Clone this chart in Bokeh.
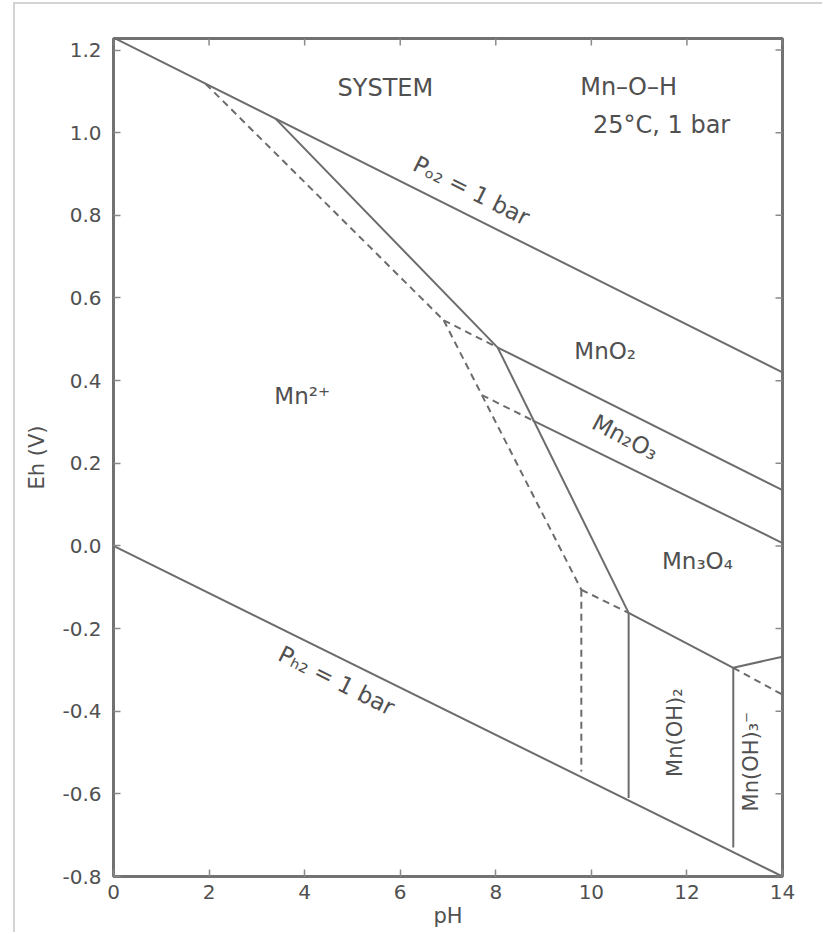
import math
from bokeh.plotting import figure
from bokeh.models import Range1d, FixedTicker, PrintfTickFormatter
from bokeh.core.properties import value
from bokeh.embed import file_html
from bokeh.resources import INLINE

# ---------------- data ----------------
ph_ticks = [0, 2, 4, 6, 8, 10, 12, 14]
eh_ticks = [-0.8, -0.6, -0.4, -0.2, 0.0, 0.2, 0.4, 0.6, 0.8, 1.0, 1.2]

# water stability limits
o2_ph = [0.0, 14.0]
o2_eh = [1.23, 0.42]
h2_ph = [0.0, 14.0]
h2_eh = [0.0, -0.80]

# solid boundaries
mn2_mno2_ph = [3.39, 8.04]
mn2_mno2_eh = [1.034, 0.48]
mn2_oxide_ph = [8.04, 10.78]
mn2_oxide_eh = [0.48, -0.162]
mno2_mn2o3_ph = [8.04, 14.0]
mno2_mn2o3_eh = [0.48, 0.135]
mn2o3_mn3o4_ph = [8.77, 14.0]
mn2o3_mn3o4_eh = [0.304, 0.007]
mn3o4_hydrox_ph = [10.78, 12.97, 14.0]
mn3o4_hydrox_eh = [-0.162, -0.295, -0.268]
mn2_mnoh2_ph = [10.78, 10.78]
mn2_mnoh2_eh = [-0.162, -0.61]
mnoh2_mnoh3_ph = [12.97, 12.97]
mnoh2_mnoh3_eh = [-0.295, -0.73]

# dashed boundaries (lower Mn activity)
d_mno2_ph = [1.93, 6.91]
d_mno2_eh = [1.118, 0.546]
d_mno2_ext_ph = [6.91, 8.04]
d_mno2_ext_eh = [0.546, 0.48]
d_oxide_ph = [6.91, 9.79]
d_oxide_eh = [0.546, -0.106]
d_mn2o3_ext_ph = [7.71, 8.77]
d_mn2o3_ext_eh = [0.365, 0.304]
d_mn3o4_ext_ph = [9.79, 10.78]
d_mn3o4_ext_eh = [-0.106, -0.162]
d_mnoh2_ph = [9.79, 9.79]
d_mnoh2_eh = [-0.106, -0.546]
d_mnoh3_ph = [12.97, 14.0]
d_mnoh3_eh = [-0.295, -0.36]

# texts
header_texts = ["SYSTEM", "Mn\u2013O\u2013H", "25\u00b0C, 1 bar"]
field_texts = ["Mn\u00b2\u207a", "MnO\u2082", "Mn\u2083O\u2084"]
slanted_texts = ["P\u2092\u2082 = 1 bar", "P\u2095\u2082 = 1 bar", "Mn\u2082O\u2083"]
upright_texts = ["Mn(OH)\u2082", "Mn(OH)\u2083\u207b"]

# ---------------- styling ----------------
LINE = "#6c6c6c"
TEXT = "#505050"
FONT = "DejaVu Sans"
X_MIN, X_MAX = 0, 14
Y_MIN, Y_MAX = -0.8, 1.228

p = figure(
    frame_width=669, frame_height=838,
    min_border_left=98, min_border_right=40, min_border_top=34, min_border_bottom=56,
    x_range=Range1d(X_MIN, X_MAX), y_range=Range1d(Y_MIN, Y_MAX),
    output_backend="svg", toolbar_location=None,
    x_axis_label="pH", y_axis_label="Eh (V)",
    styles={"margin-left": "13px", "margin-top": "2px",
            "border-left": "2px solid #d4d4d4",
            "border-top": "2px solid #d4d4d4"},
)
p.xgrid.visible = False
p.ygrid.visible = False
p.outline_line_color = "#727272"
p.outline_line_width = 3
p.background_fill_color = "white"
p.border_fill_color = "white"

p.xaxis.ticker = FixedTicker(ticks=ph_ticks)
p.yaxis.ticker = FixedTicker(ticks=eh_ticks)
p.yaxis.formatter = PrintfTickFormatter(format="%.1f")

for ax in p.axis:
    ax.axis_line_color = None
    ax.major_tick_in = 7
    ax.major_tick_out = 0
    ax.major_tick_line_color = "#8a8a8a"
    ax.major_tick_line_width = 1.5
    ax.minor_tick_line_color = None
    ax.major_label_text_font = FONT
    ax.major_label_text_font_size = "20px"
    ax.major_label_text_color = TEXT
    ax.axis_label_text_font = FONT
    ax.axis_label_text_font_size = "21px"
    ax.axis_label_text_font_style = "normal"
    ax.axis_label_text_color = TEXT

p.xaxis.major_label_standoff = 8
p.xaxis.axis_label_standoff = 2
p.yaxis.major_label_standoff = 12
p.yaxis.axis_label_standoff = 10

# inward ticks on the top and right edges of the frame
p.ray(x=ph_ticks, y=[Y_MAX] * len(ph_ticks), length=7, length_units="screen",
      angle=-math.pi / 2, line_color="#8a8a8a", line_width=1.5)
p.ray(x=[X_MAX] * len(eh_ticks), y=eh_ticks, length=7, length_units="screen",
      angle=math.pi, line_color="#8a8a8a", line_width=1.5)

solid = [
    (o2_ph, o2_eh), (h2_ph, h2_eh),
    (mn2_mno2_ph, mn2_mno2_eh), (mn2_oxide_ph, mn2_oxide_eh),
    (mno2_mn2o3_ph, mno2_mn2o3_eh), (mn2o3_mn3o4_ph, mn2o3_mn3o4_eh),
    (mn3o4_hydrox_ph, mn3o4_hydrox_eh), (mn2_mnoh2_ph, mn2_mnoh2_eh),
    (mnoh2_mnoh3_ph, mnoh2_mnoh3_eh),
]
dashed = [
    (d_mno2_ph, d_mno2_eh), (d_mno2_ext_ph, d_mno2_ext_eh),
    (d_oxide_ph, d_oxide_eh), (d_mn2o3_ext_ph, d_mn2o3_ext_eh),
    (d_mn3o4_ext_ph, d_mn3o4_ext_eh), (d_mnoh2_ph, d_mnoh2_eh),
    (d_mnoh3_ph, d_mnoh3_eh),
]
p.multi_line(xs=[s[0] for s in solid], ys=[s[1] for s in solid],
             line_color=LINE, line_width=2)
p.multi_line(xs=[s[0] for s in dashed], ys=[s[1] for s in dashed],
             line_color=LINE, line_width=2, line_dash="7 5")

common = dict(text_font=value(FONT), text_color=TEXT,
              text_align="center", text_baseline="middle")

# header
p.text(x=[5.69, 10.78, 11.47], y=[1.109, 1.111, 1.019], text=header_texts,
       text_font_size="24px", **common)
# field labels (horizontal)
p.text(x=[3.95, 10.29, 12.22], y=[0.362, 0.471, -0.036], text=field_texts,
       text_font_size="23px", **common)
# slanted labels
slant = -math.atan(0.499)
p.text(x=[7.49, 4.67, 10.71], y=[0.86, -0.326, 0.263], text=slanted_texts,
       angle=[slant, slant, slant - 0.02], text_font_size="23px", **common)
# vertical labels
p.text(x=[11.74, 13.35], y=[-0.452, -0.522], text=upright_texts,
       angle=math.pi / 2, text_font_size="21px", **common)

open("out.html", "w").write(file_html(p, INLINE))
